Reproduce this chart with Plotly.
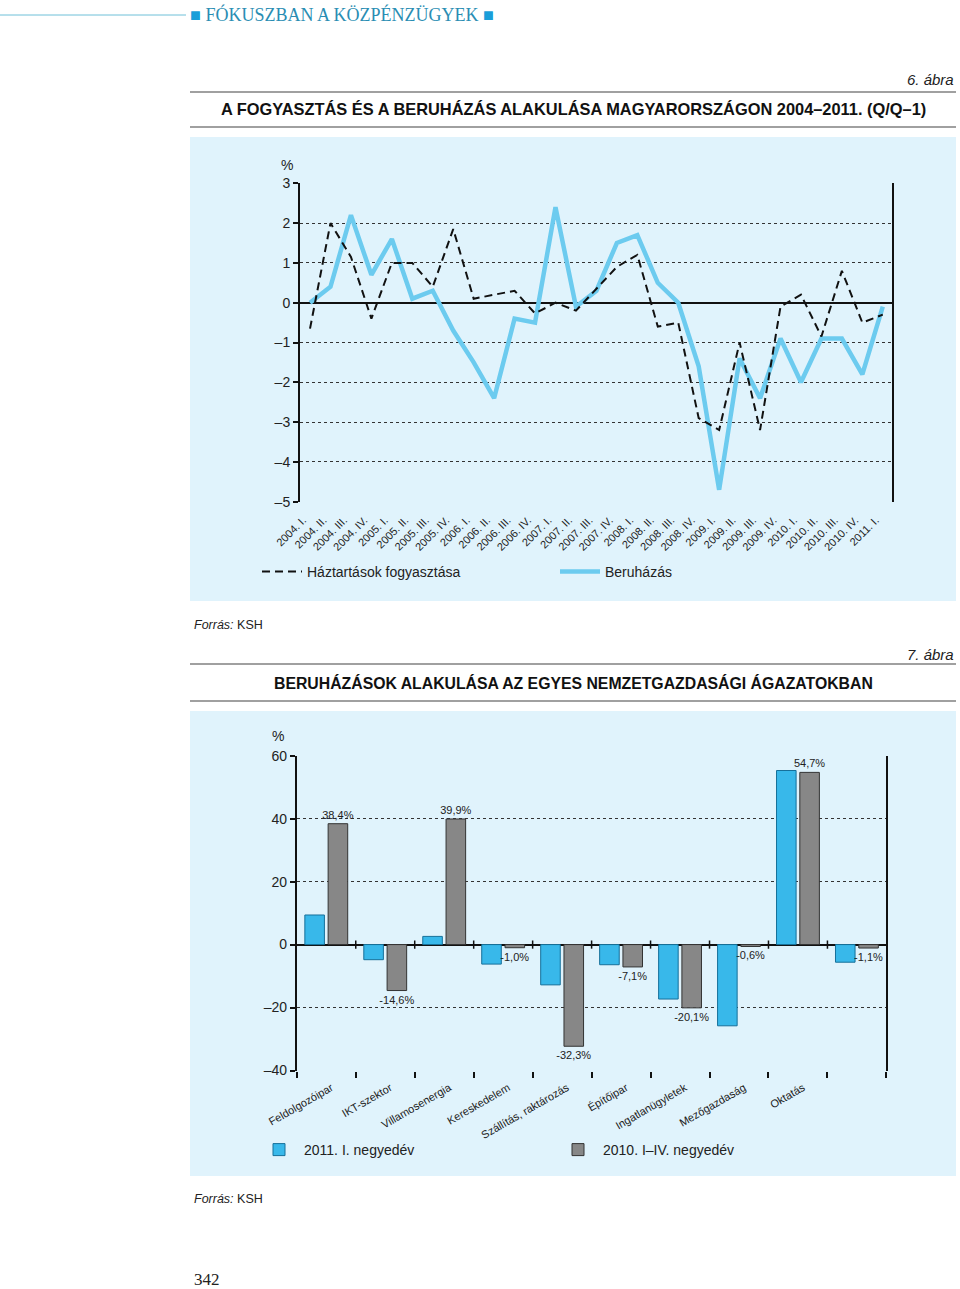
import plotly.graph_objects as go

# ---------------- Data: chart 1 (6. ábra) ----------------
quarters = [
    "2004. I.", "2004. II.", "2004. III.", "2004. IV.",
    "2005. I.", "2005. II.", "2005. III.", "2005. IV.",
    "2006. I.", "2006. II.", "2006. III.", "2006. IV.",
    "2007. I.", "2007. II.", "2007. III.", "2007. IV.",
    "2008. I.", "2008. II.", "2008. III.", "2008. IV.",
    "2009. I.", "2009. II.", "2009. III.", "2009. IV.",
    "2010. I.", "2010. II.", "2010. III.", "2010. IV.",
    "2011. I.",
]
fogyasztas = [-0.65, 2.0, 1.15, -0.4, 1.0, 1.0, 0.4, 1.85, 0.1, 0.2, 0.3, -0.27,
              0.0, -0.2, 0.35, 0.9, 1.2, -0.6, -0.5, -2.9, -3.2, -1.0, -3.2,
              -0.1, 0.2, -0.85, 0.8, -0.5, -0.3]
beruhazas = [0.0, 0.4, 2.2, 0.7, 1.6, 0.1, 0.3, -0.7, -1.5, -2.4, -0.4, -0.5,
             2.4, -0.1, 0.3, 1.5, 1.7, 0.5, 0.0, -1.6, -4.7, -1.4, -2.4,
             -0.9, -2.0, -0.9, -0.9, -1.8, -0.1]
y1_ticks = [-5, -4, -3, -2, -1, 0, 1, 2, 3]
y1_ticktext = ["–5", "–4", "–3", "–2", "–1", "0", "1", "2", "3"]

# ---------------- Data: chart 2 (7. ábra) ----------------
agazatok = ["Feldolgozóipar", "IKT-szektor", "Villamosenergia", "Kereskedelem",
            "Szállítás, raktározás", "Építőipar", "Ingatlanügyletek",
            "Mezőgazdaság", "Oktatás", " "]
negyedev_2011 = [9.4, -4.8, 2.6, -6.2, -12.8, -6.4, -17.3, -25.8, 55.3, -5.6]
ev_2010 = [38.4, -14.6, 39.9, -1.0, -32.3, -7.1, -20.1, -0.6, 54.7, -1.1]
y2_ticks = [-40, -20, 0, 20, 40, 60]
y2_ticktext = ["–40", "–20", "0", "20", "40", "60"]

W, H = 960, 1289
SANS = "Liberation Sans, Arial, sans-serif"
SERIF = "Liberation Serif, Times New Roman, serif"
PANEL = "#e0f3fc"


def px(xp):
    return xp / W


def py(yp):
    return 1 - yp / H


fig = go.Figure()

# ---- chart 1 traces ----
fig.add_trace(go.Scatter(
    x=quarters, y=beruhazas, mode="lines", name="Beruházás",
    line=dict(color="#6ccbef", width=4.5), legend="legend", legendrank=2,
    xaxis="x", yaxis="y"))
fig.add_trace(go.Scatter(
    x=quarters, y=fogyasztas, mode="lines", name="Háztartások fogyasztása",
    line=dict(color="#111111", width=2, dash="8px,5px"), legend="legend", legendrank=1,
    xaxis="x", yaxis="y"))

# ---- chart 2 traces ----
fig.add_trace(go.Bar(
    x=agazatok, y=negyedev_2011, name="2011. I. negyedév",
    marker=dict(color="#38b8ea", line=dict(color="#16709a", width=1)),
    legend="legend2", xaxis="x2", yaxis="y2"))
fig.add_trace(go.Bar(
    x=agazatok, y=ev_2010, name="2010. I–IV. negyedév",
    marker=dict(color="#878787", line=dict(color="#333333", width=1)),
    text=[f"{v:.1f}".replace(".", ",") + "%" for v in ev_2010],
    textposition="outside", cliponaxis=False, constraintext="none",
    textfont=dict(family=SANS, size=11, color="#222"),
    legend="legend2", xaxis="x2", yaxis="y2"))

grid = dict(showgrid=True, gridcolor="#333333", gridwidth=1, griddash="3px,3px")

fig.update_layout(
    width=W, height=H, margin=dict(l=0, r=0, t=0, b=0, autoexpand=False),
    paper_bgcolor="white", plot_bgcolor="rgba(0,0,0,0)",
    font=dict(family=SANS, color="#222"),
    barmode="group", bargap=0.21, bargroupgap=0.16,
    xaxis=dict(domain=[px(300), px(892)], anchor="y", type="category",
               range=[-0.49, 28.45], showgrid=False, showline=False, ticks="",
               tickangle=-45, tickfont=dict(size=11, family=SANS, color="#222"),
               ticklabelstandoff=9, ticklabelshift=-7, automargin=False),
    yaxis=dict(domain=[py(501.7), py(183.3)], anchor="x", range=[-5, 3],
               tickvals=y1_ticks, ticktext=y1_ticktext,
               showline=True, linecolor="#111", linewidth=2, mirror=True,
               ticks="outside", ticklen=5, tickwidth=2, tickcolor="#111",
               zeroline=True, zerolinecolor="#111", zerolinewidth=2,
               tickfont=dict(size=14, family=SANS, color="#222"), automargin=False, **grid),
    xaxis2=dict(domain=[px(296.8), px(886.4)], anchor="y2", type="category",
                showgrid=False, showline=False, ticks="outside", tickson="boundaries",
                ticklen=6, tickwidth=1.5, tickcolor="#111", automargin=False,
                ticklabelstandoff=8, ticklabelshift=5,
                tickangle=-30, tickfont=dict(size=11, family=SANS, color="#222")),
    yaxis2=dict(domain=[py(1070.5), py(755.7)], anchor="x2", range=[-40, 60],
                tickvals=y2_ticks, ticktext=y2_ticktext,
                showline=True, linecolor="#111", linewidth=2, mirror=True,
                ticks="outside", ticklen=5, tickwidth=1.5, tickcolor="#111",
                zeroline=True, zerolinecolor="#111", zerolinewidth=2,
                tickfont=dict(size=14, family=SANS, color="#222"), automargin=False, **grid),
    legend=dict(orientation="h", x=px(257), y=py(572), xanchor="left", yanchor="middle",
                bgcolor="rgba(0,0,0,0)", font=dict(size=14, family=SANS, color="#222"),
                itemwidth=40, entrywidth=243, entrywidthmode="pixels", traceorder="normal"),
    legend2=dict(orientation="h", x=px(254), y=py(1150), xanchor="left", yanchor="middle",
                 bgcolor="rgba(0,0,0,0)", font=dict(size=14, family=SANS, color="#222"),
                 itemwidth=40, entrywidth=244, entrywidthmode="pixels"),
)

shapes = []
# panels
shapes.append(dict(type="rect", xref="paper", yref="paper", layer="below",
                   x0=px(190), x1=px(956), y0=py(601), y1=py(137),
                   fillcolor=PANEL, line=dict(width=0)))
shapes.append(dict(type="rect", xref="paper", yref="paper", layer="below",
                   x0=px(190), x1=px(956), y0=py(1176), y1=py(711),
                   fillcolor=PANEL, line=dict(width=0)))
# header rule
shapes.append(dict(type="line", xref="paper", yref="paper", x0=0, x1=px(186),
                   y0=py(15), y1=py(15), line=dict(color="#6fc0d8", width=1)))
# title rules
for yy in (92, 127, 664, 701):
    shapes.append(dict(type="line", xref="paper", yref="paper", x0=px(190), x1=px(956),
                       y0=py(yy), y1=py(yy), line=dict(color="#a0a0a0", width=2)))
# small tick crosses on chart 2 zero line at category boundaries
for i in range(len(agazatok) - 1):
    shapes.append(dict(type="line", xref="x2", yref="y2", x0=i + 0.5, x1=i + 0.5,
                       y0=-1.3, y1=1.3, line=dict(color="#111", width=1.5)))
fig.update_layout(shapes=shapes)

ann = [
    dict(text="<span style='color:#1a9ed9'>■</span> FÓKUSZBAN A KÖZPÉNZÜGYEK <span style='color:#1a9ed9'>■</span>",
         x=px(188), y=py(15), xanchor="left", yanchor="middle",
         font=dict(family=SERIF, size=18, color="#2a8db3")),
    dict(text="<i>6. ábra</i>", x=px(956), y=py(79), xanchor="right", yanchor="middle",
         font=dict(family=SANS, size=15, color="#222")),
    dict(text="<b>A FOGYASZTÁS ÉS A BERUHÁZÁS ALAKULÁSA MAGYARORSZÁGON 2004–2011. (Q/Q–1)</b>",
         x=px(573), y=py(109), xanchor="center", yanchor="middle",
         font=dict(family=SANS, size=16.4, color="#111")),
    dict(text="%", x=px(287), y=py(165), xanchor="center", yanchor="middle",
         font=dict(family=SANS, size=14, color="#222")),
    dict(text="<i>Forrás:</i> KSH", x=px(192), y=py(625), xanchor="left", yanchor="middle",
         font=dict(family=SANS, size=12.5, color="#222")),
    dict(text="<i>7. ábra</i>", x=px(956), y=py(654), xanchor="right", yanchor="middle",
         font=dict(family=SANS, size=15, color="#222")),
    dict(text="<b>BERUHÁZÁSOK ALAKULÁSA AZ EGYES NEMZETGAZDASÁGI ÁGAZATOKBAN</b>",
         x=px(573), y=py(683), xanchor="center", yanchor="middle",
         font=dict(family=SANS, size=15.8, color="#111")),
    dict(text="%", x=px(278), y=py(736), xanchor="center", yanchor="middle",
         font=dict(family=SANS, size=14, color="#222")),
    dict(text="<i>Forrás:</i> KSH", x=px(192), y=py(1199), xanchor="left", yanchor="middle",
         font=dict(family=SANS, size=12.5, color="#222")),
    dict(text="342", x=px(192), y=py(1279), xanchor="left", yanchor="middle",
         font=dict(family=SERIF, size=17, color="#222")),
]
for a in ann:
    a.update(xref="paper", yref="paper", showarrow=False)
fig.update_layout(annotations=ann)

fig.write_html("out.html", config={"displayModeBar": False},
               post_script="document.body.style.margin='0';document.body.style.padding='0';")
